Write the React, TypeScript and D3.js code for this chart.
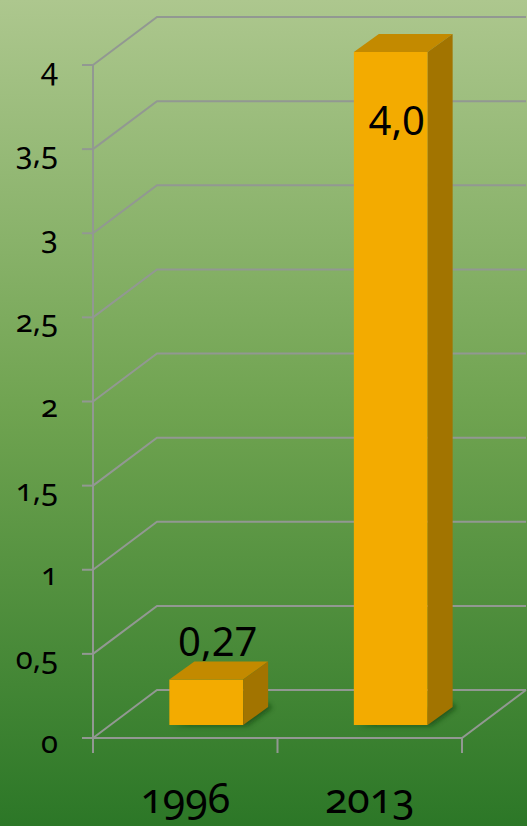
import React from "react";
import * as d3 from "d3";

const categories = ["1996", "2013"];
const values = [0.27, 4.0];
const valueLabels = ["0,27", "4,0"];
const yTicks = [0, 0.5, 1, 1.5, 2, 2.5, 3, 3.5, 4];

const W = 527;
const H = 826;

export default function App() {
  const y = d3.scaleLinear().domain([0, 4]).range([738, 65]);
  const x = d3.scaleBand<string>().domain(categories).range([93, 462]).paddingInner(0).paddingOuter(0);
  const depthX = 64, depthY = 48;
  const barOffX = 21, barOffY = 13;
  const bdx = 25, bdy = 18;
  const barW = x.bandwidth() * 0.4;
  const fmt = (v: number) => String(v).replace(".", ",");
  const right = 93 + (462 - 93) + depthX;
  const grid = "#929892";
  const font = "'Noto Sans', 'Open Sans', sans-serif";

  return (
    <div style={{ position: "fixed", left: 0, top: 0 }}>
      <svg width={W} height={H} style={{ display: "block" }}>
        <defs>
          <linearGradient id="bg" x1="0" y1="0" x2="0" y2="1">
            <stop offset="0" stopColor="#adc78e" />
            <stop offset="0.5" stopColor="#6fa350" />
            <stop offset="1" stopColor="#2c7727" />
          </linearGradient>
          <filter id="blur" x="-50%" y="-50%" width="200%" height="200%">
            <feGaussianBlur stdDeviation="2.5" />
          </filter>
        </defs>
        <rect x={0} y={0} width={W} height={H} fill="url(#bg)" />
        {yTicks.map((t) => {
          const yy = y(t);
          return (
            <path
              key={"g" + t}
              d={`M${93},${yy} L${93 + depthX},${yy - depthY} L${right},${yy - depthY}`}
              fill="none"
              stroke={grid}
              strokeWidth={2}
            />
          );
        })}
        <path
          d={`M93,${y(0)} L462,${y(0)} L${462 + depthX},${y(0) - depthY}`}
          fill="none"
          stroke={grid}
          strokeWidth={2}
        />
        <line x1={93} x2={93} y1={y(4)} y2={753} stroke={grid} strokeWidth={2} />
        {yTicks.map((t) => (
          <line key={"t" + t} x1={82} x2={93} y1={y(t)} y2={y(t)} stroke={grid} strokeWidth={2} />
        ))}
        {categories.map((c) => x(c)! + x.bandwidth()).map((xx, i) => (
          <line key={"ct" + i} x1={xx} x2={xx} y1={y(0)} y2={753} stroke={grid} strokeWidth={2} />
        ))}
        {yTicks.map((t) => (
          <text
            key={"l" + t}
            x={58}
            y={y(t) + 15}
            textAnchor="end"
            fontFamily={font}
            fontSize={31}
            fill="#000"
            style={{ fontVariantNumeric: "oldstyle-nums" }}
          >
            {fmt(t)}
          </text>
        ))}
        {categories.map((c) => (
          <text
            key={"c" + c}
            x={x(c)! + x.bandwidth() / 2}
            y={813}
            textAnchor="middle"
            fontFamily={font}
            fontSize={41}
            fill="#000"
            style={{ fontVariantNumeric: "oldstyle-nums" }}
          >
            {c}
          </text>
        ))}
        {categories.map((c, i) => {
          const x0 = x(c)! + (x.bandwidth() - barW) / 2 + barOffX;
          const y0 = y(0) - barOffY;
          const y1 = y(values[i]) - barOffY;
          return (
            <g key={"b" + c}>
              <polygon
                points={`${x0 + 4},${y0 + 1} ${x0 + barW + 4},${y0 + 1} ${x0 + barW + bdx + 4},${y0 - bdy + 1} ${x0 + barW + bdx},${y0 - bdy - 4}`}
                fill="#0d3a0a"
                opacity={0.6}
                filter="url(#blur)"
              />
              <rect x={x0} y={y1} width={barW} height={y0 - y1} fill="#f3ab00" />
              <polygon
                points={`${x0},${y1} ${x0 + barW},${y1} ${x0 + barW + bdx},${y1 - bdy} ${x0 + bdx},${y1 - bdy}`}
                fill="#c38a00"
              />
              <polygon
                points={`${x0 + barW},${y1} ${x0 + barW + bdx},${y1 - bdy} ${x0 + barW + bdx},${y0 - bdy} ${x0 + barW},${y0}`}
                fill="#a27400"
              />
            </g>
          );
        })}
        {categories.map((c, i) => {
          const x0 = x(c)! + (x.bandwidth() - barW) / 2 + barOffX;
          const y1 = y(values[i]) - barOffY;
          let ly = y1 - bdy - 6;
          let lx = x0 + barW / 2 + bdx / 2 - 1;
          if (ly < 100) {
            ly = y1 + 83;
            lx = x0 + barW / 2 + 6;
          }
          return (
            <text
              key={"v" + c}
              x={lx}
              y={ly}
              textAnchor="middle"
              fontFamily={font}
              fontSize={40}
              fill="#000"
            >
              {valueLabels[i]}
            </text>
          );
        })}
      </svg>
    </div>
  );
}
